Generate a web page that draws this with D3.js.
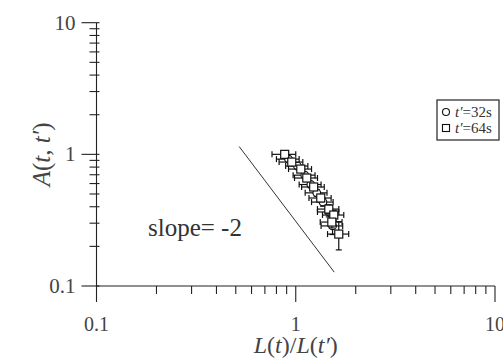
<!DOCTYPE html>
<html>
<head>
<meta charset="utf-8">
<script src="https://cdn.jsdelivr.net/npm/d3@7"></script>
<style>
  html, body { margin: 0; padding: 0; background: #fff; }
  svg { display: block; }
</style>
</head>
<body>
<svg id="chart" width="503" height="358"></svg>
<script>
// Scaling of the autocorrelation amplitude A(t, t') against L(t)/L(t')
const seriesNames = ["t'=32s", "t'=64s"];

// t' = 32 s (circles)
const ratio32 = [0.92, 1.02, 1.11, 1.19, 1.275, 1.37, 1.465, 1.53];
const amp32   = [0.92, 0.815, 0.695, 0.59, 0.51, 0.434, 0.365, 0.286];
const xErr32  = [0.12, 0.13, 0.14, 0.15, 0.16, 0.17, 0.18, 0.19];
const yErr32  = [0.03, 0.03, 0.03, 0.03, 0.03, 0.03, 0.03, 0.04];

// t' = 64 s (squares)
const ratio64 = [0.88, 0.955, 1.06, 1.136, 1.23, 1.335, 1.465, 1.552, 1.517, 1.644];
const amp64   = [1.0, 0.874, 0.773, 0.661, 0.565, 0.466, 0.384, 0.346, 0.306, 0.248];
const xErr64  = [0.12, 0.13, 0.14, 0.15, 0.16, 0.17, 0.18, 0.19, 0.19, 0.2];
const yErr64  = [0.04, 0.04, 0.04, 0.04, 0.03, 0.03, 0.03, 0.03, 0.03, 0.06];

// Guide line of slope -2 on log-log axes
const slopeExponent = -2;
const slopeAmplitude = 0.31;
const slopeRange = [0.52, 1.56];
const slopeLabel = "slope= -2";

const axisTicks = [0.1, 1, 10];
const axisTickLabels = ["0.1", "1", "10"];

const serif = "'Liberation Serif', 'Times New Roman', 'DejaVu Serif', serif";
const textInk = "#444";

const svg = d3.select("#chart");
const x = d3.scaleLog().domain([0.1, 10]).range([96.5, 495]);
const y = d3.scaleLog().domain([0.1, 10]).range([286, 22.7]);
const ink = "#222";

// minor ticks (2..9 in each decade)
const minor = x.ticks().filter(v => !axisTicks.some(t => Math.abs(t - v) < 1e-9));
const minorY = y.ticks().filter(v => !axisTicks.some(t => Math.abs(t - v) < 1e-9));

const axes = svg.append("g").attr("stroke", ink).attr("stroke-width", 1.1);
axes.append("line").attr("x1", x(0.1)).attr("x2", x(10)).attr("y1", y(0.1)).attr("y2", y(0.1));
axes.append("line").attr("x1", x(0.1)).attr("x2", x(0.1)).attr("y1", y(0.1)).attr("y2", y(10));
axes.selectAll(".xmaj").data(axisTicks).join("line")
  .attr("x1", d => x(d)).attr("x2", d => x(d))
  .attr("y1", y(0.1)).attr("y2", y(0.1) + 16);
axes.selectAll(".xmin").data(minor).join("line")
  .attr("x1", d => x(d)).attr("x2", d => x(d))
  .attr("y1", y(0.1)).attr("y2", y(0.1) + 8);
axes.selectAll(".ymaj").data(axisTicks).join("line")
  .attr("x1", x(0.1) - 15).attr("x2", x(0.1) + 3)
  .attr("y1", d => y(d)).attr("y2", d => y(d));
axes.selectAll(".ymin").data(minorY).join("line")
  .attr("x1", x(0.1) - 7).attr("x2", x(0.1) + 3)
  .attr("y1", d => y(d)).attr("y2", d => y(d));

// tick labels
svg.selectAll(".xl").data(axisTicks).join("text")
  .attr("x", d => x(d)).attr("y", y(0.1) + 45)
  .attr("text-anchor", "middle").attr("font-size", 20)
  .attr("font-family", serif).attr("fill", textInk)
  .text((d, i) => axisTickLabels[i]);
svg.selectAll(".yl").data(axisTicks).join("text")
  .attr("x", x(0.1) - 21).attr("y", d => y(d) + 7)
  .attr("text-anchor", "end").attr("font-size", 21)
  .attr("font-family", serif).attr("fill", textInk)
  .text((d, i) => axisTickLabels[i]);

// axis titles
function titleParts(sel, parts) {
  parts.forEach(([s, it]) => sel.append("tspan")
    .attr("font-style", it ? "italic" : "normal").text(s));
}
const xt = svg.append("text").attr("x", x(1)).attr("y", 353)
  .attr("text-anchor", "middle").attr("font-size", 24)
  .attr("font-family", serif).attr("fill", textInk);
titleParts(xt, [["L", 1], ["(", 0], ["t", 1], [")/", 0], ["L", 1], ["(", 0], ["t′", 1], [")", 0]]);

const yt = svg.append("text")
  .attr("transform", `translate(50,${y(1)}) rotate(-90)`)
  .attr("text-anchor", "middle").attr("font-size", 25)
  .attr("font-family", serif).attr("fill", textInk);
titleParts(yt, [["A", 1], ["(", 0], ["t", 1], [", ", 0], ["t′", 1], [")", 0]]);

// slope guide
const slopePts = slopeRange.map(v => [v, slopeAmplitude * Math.pow(v, slopeExponent)]);
svg.append("path")
  .attr("d", d3.line().x(d => x(d[0])).y(d => y(d[1]))(slopePts))
  .attr("stroke", "#333").attr("stroke-width", 1).attr("fill", "none");
svg.append("text").attr("x", 148).attr("y", 236).attr("font-size", 25)
  .attr("font-family", serif).attr("fill", "#333").text(slopeLabel);

// data with error bars
function drawSeries(xs, ys, xe, ye, shape) {
  const pts = xs.map((v, i) => ({ x: v, y: ys[i], xe: xe[i], ye: ye[i] }));
  const g = svg.append("g").attr("stroke", "#111").attr("stroke-width", 1.2).attr("fill", "none");
  const cap = 3;
  pts.forEach(p => {
    const cx = x(p.x), cy = y(p.y);
    const xl = x(p.x - p.xe), xr = x(p.x + p.xe);
    const yb = y(p.y - p.ye), yu = y(p.y + p.ye);
    g.append("line").attr("x1", xl).attr("x2", xr).attr("y1", cy).attr("y2", cy);
    g.append("line").attr("x1", xl).attr("x2", xl).attr("y1", cy - cap).attr("y2", cy + cap);
    g.append("line").attr("x1", xr).attr("x2", xr).attr("y1", cy - cap).attr("y2", cy + cap);
    g.append("line").attr("x1", cx).attr("x2", cx).attr("y1", yu).attr("y2", yb);
    g.append("line").attr("x1", cx - cap).attr("x2", cx + cap).attr("y1", yu).attr("y2", yu);
    g.append("line").attr("x1", cx - cap).attr("x2", cx + cap).attr("y1", yb).attr("y2", yb);
  });
  const m = svg.append("g").attr("stroke", "#111").attr("stroke-width", 1.2).attr("fill", "#fff");
  if (shape === "circle") {
    m.selectAll("circle").data(pts).join("circle")
      .attr("cx", d => x(d.x)).attr("cy", d => y(d.y)).attr("r", 3.8);
  } else {
    m.selectAll("rect").data(pts).join("rect")
      .attr("x", d => x(d.x) - 4).attr("y", d => y(d.y) - 4)
      .attr("width", 8).attr("height", 8);
  }
}
drawSeries(ratio32, amp32, xErr32, yErr32, "circle");
drawSeries(ratio64, amp64, xErr64, yErr64, "square");

// legend
const lg = svg.append("g").attr("transform", "translate(437,100)");
lg.append("rect").attr("width", 62).attr("height", 40)
  .attr("fill", "#fff").attr("stroke", "#222").attr("stroke-width", 1.2);
seriesNames.forEach((name, i) => {
  const ry = 12 + i * 16;
  if (i === 0) {
    lg.append("circle").attr("cx", 9).attr("cy", ry).attr("r", 3.5)
      .attr("fill", "#fff").attr("stroke", "#111").attr("stroke-width", 1.1);
  } else {
    lg.append("rect").attr("x", 5.5).attr("y", ry - 3.5).attr("width", 7).attr("height", 7)
      .attr("fill", "#fff").attr("stroke", "#111").attr("stroke-width", 1.1);
  }
  const t = lg.append("text").attr("x", 18).attr("y", ry + 5).attr("font-size", 15)
    .attr("font-family", serif).attr("fill", "#333");
  t.append("tspan").attr("font-style", "italic").text(name.slice(0, 2).replace("'", "′"));
  t.append("tspan").text(name.slice(2));
});
</script>
</body>
</html>
